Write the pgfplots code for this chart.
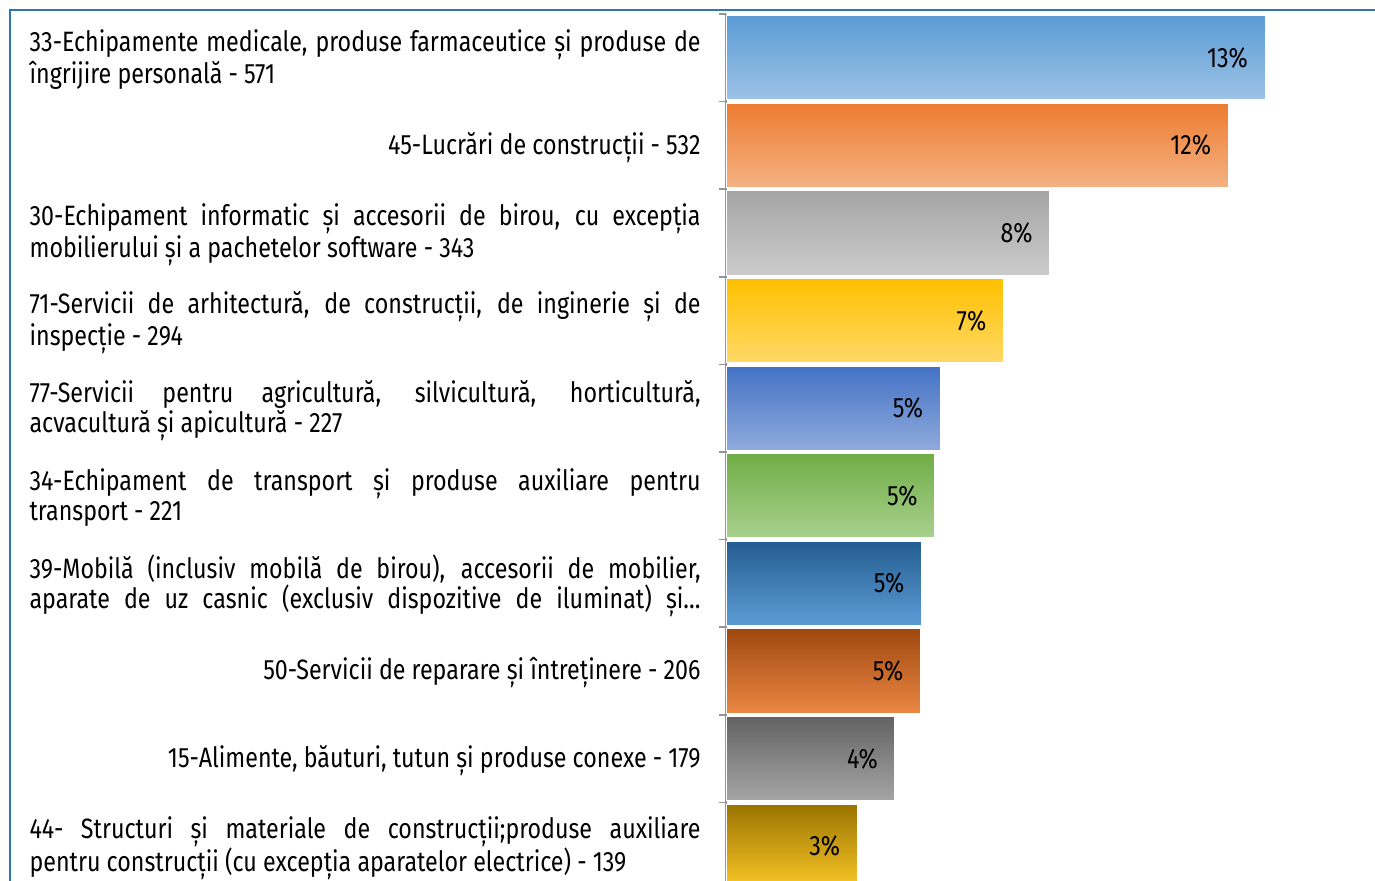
\documentclass[border=0pt]{standalone}
\usepackage{fontspec}
\setmainfont{Fira Sans}[FakeStretch=0.83]
\usepackage{pgfplots}
\pgfplotsset{compat=1.18}
\definecolor{frameblue}{RGB}{46,117,182}
\definecolor{axisgray}{RGB}{150,150,150}
\definecolor{cAt}{RGB}{91,155,213}\definecolor{cAb}{RGB}{157,195,230}
\definecolor{cBt}{RGB}{237,125,49}\definecolor{cBb}{RGB}{244,177,131}
\definecolor{cCt}{RGB}{165,165,165}\definecolor{cCb}{RGB}{203,203,203}
\definecolor{cDt}{RGB}{255,192,0}\definecolor{cDb}{RGB}{255,217,102}
\definecolor{cEt}{RGB}{68,114,196}\definecolor{cEb}{RGB}{143,170,220}
\definecolor{cFt}{RGB}{112,173,71}\definecolor{cFb}{RGB}{169,209,142}
\definecolor{cGt}{RGB}{37,94,145}\definecolor{cGb}{RGB}{91,155,213}
\definecolor{cHt}{RGB}{158,72,14}\definecolor{cHb}{RGB}{237,135,68}
\definecolor{cIt}{RGB}{99,99,99}\definecolor{cIb}{RGB}{165,165,165}
\definecolor{cJt}{RGB}{153,115,0}\definecolor{cJb}{RGB}{250,200,40}
\newcommand{\labfont}{\fontsize{14pt}{15pt}\selectfont\hyphenpenalty=10000\exhyphenpenalty=10000\tolerance=10000\hbadness=10000\hfuzz=20pt}

\pgfplotsset{
  bar/.style n args={2}{xbar, bar shift=0pt, bar width=0.96, draw=white, line width=0.5pt,
    top color=#1, bottom color=#2, point meta=explicit symbolic, nodes near coords,
    every node near coord/.append style={anchor=east, xshift=-5pt, font=\labfont, text=black}},
}

\begin{document}
\begin{tikzpicture}
\path[use as bounding box] (0,0) rectangle (687.5pt,-440.5pt);
\clip (0,0) rectangle (687.5pt,-440.5pt);
\draw[frameblue, line width=1pt] (4.75pt,-450pt) -- (4.75pt,-5pt) -- (700pt,-5pt);
\begin{axis}[
  at={(363pt,-445pt)}, anchor=south west,
  scale only axis, width=324.5pt, height=438pt,
  xmin=0, xmax=687.5, ymin=-0.5, ymax=9.5, y dir=reverse,
  hide x axis,
  axis y line*=left,
  y axis line style={draw=axisgray, line width=0.75pt},
  ytick={0,1,2,3,4,5,6,7,8,9},
  minor ytick={-0.5,0.5,1.5,2.5,3.5,4.5,5.5,6.5,7.5,8.5,9.5},
  major tick length=0pt, minor tick length=3.5pt,
  tick align=outside,
  minor tick style={draw=axisgray, line width=0.75pt},
  yticklabel style={anchor=east, inner sep=0pt, xshift=-12.5pt, yshift=-1pt, text width=335.5pt, align=justify, font=\labfont},
  yticklabels={
    {33-Echipamente medicale, produse farmaceutice și produse de\linebreak îngrijire personală - 571},
    {\hfill 45-Lucrări de construcții - 532},
    {30-Echipament informatic și accesorii de birou, cu excepția\linebreak mobilierului și a pachetelor software - 343},
    {71-Servicii de arhitectură, de construcții, de inginerie și de\linebreak inspecție - 294},
    {77-Servicii pentru agricultură, silvicultură, horticultură,\linebreak acvacultură și apicultură - 227},
    {34-Echipament de transport și produse auxiliare pentru\linebreak transport - 221},
    {39-Mobilă (inclusiv mobilă de birou), accesorii de mobilier,\linebreak\makebox[\hsize][s]{aparate de uz casnic (exclusiv dispozitive de iluminat) și…}},
    {\hfill 50-Servicii de reparare și întreținere - 206},
    {\hfill 15-Alimente, băuturi, tutun și produse conexe - 179},
    {44- Structuri și materiale de construcții;produse auxiliare\linebreak pentru construcții (cu excepția aparatelor electrice) - 139},
  },
  clip=false,
]
\addplot[bar={cAt}{cAb}] coordinates {(571,0) [13\%]};
\addplot[bar={cBt}{cBb}] coordinates {(532,1) [12\%]};
\addplot[bar={cCt}{cCb}] coordinates {(343,2) [8\%]};
\addplot[bar={cDt}{cDb}] coordinates {(294,3) [7\%]};
\addplot[bar={cEt}{cEb}] coordinates {(227,4) [5\%]};
\addplot[bar={cFt}{cFb}] coordinates {(221,5) [5\%]};
\addplot[bar={cGt}{cGb}] coordinates {(207,6) [5\%]};
\addplot[bar={cHt}{cHb}] coordinates {(206,7) [5\%]};
\addplot[bar={cIt}{cIb}] coordinates {(179,8) [4\%]};
\addplot[bar={cJt}{cJb}] coordinates {(139,9) [3\%]};
\end{axis}
\end{tikzpicture}
\end{document}
